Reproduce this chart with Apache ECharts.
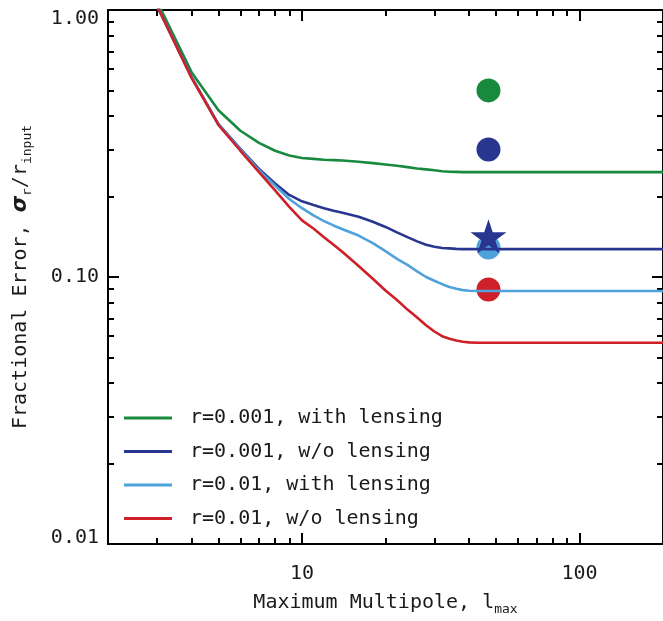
<!DOCTYPE html>
<html>
<head>
<meta charset="utf-8">
<script src="https://cdn.jsdelivr.net/npm/echarts@6/dist/echarts.min.js"></script>
<style>html,body{margin:0;padding:0;background:#fff}#c{width:663px;height:621px}</style>
</head>
<body>
<div id="c"></div>
<script>
// Multipole values (x)
var ell = [2,3,4,5,6,7,8,9,10,11,12,13,14,16,18,20,22,24,26,28,30,32,34,36,38,40,43,46,50,60,80,100,150,200];
// r=0.001, with lensing
var r001Lens = [2.5,1.08,0.585,0.421,0.353,0.318,0.297,0.285,0.279,0.277,0.275,0.274,0.273,0.270,0.267,0.264,0.261,0.258,0.255,0.253,0.251,0.249,0.248,0.2475,0.247,0.247,0.247,0.247,0.247,0.247,0.247,0.247,0.247,0.247];
// r=0.001, w/o lensing
var r001NoLens = [2.4,1.04,0.562,0.374,0.302,0.254,0.224,0.203,0.192,0.186,0.181,0.177,0.174,0.168,0.161,0.154,0.147,0.141,0.136,0.132,0.1298,0.1285,0.128,0.1275,0.1272,0.1272,0.1272,0.1272,0.1272,0.1272,0.1272,0.1272,0.1272,0.1272];
// r=0.01, with lensing
var r01Lens = [2.4,1.04,0.56,0.372,0.300,0.251,0.220,0.196,0.181,0.170,0.162,0.156,0.151,0.143,0.134,0.125,0.117,0.111,0.105,0.100,0.0968,0.0940,0.0918,0.0903,0.0893,0.0888,0.0886,0.0886,0.0886,0.0886,0.0886,0.0886,0.0886,0.0886];
// r=0.01, w/o lensing
var r01NoLens = [2.4,1.04,0.557,0.371,0.297,0.247,0.211,0.183,0.163,0.152,0.141,0.132,0.124,0.110,0.0985,0.089,0.082,0.0755,0.0705,0.066,0.0625,0.0600,0.0587,0.0578,0.0572,0.0569,0.0567,0.0567,0.0567,0.0567,0.0567,0.0567,0.0567,0.0567];
// Single-point markers at lmax ~ 47
var markerEll = 47;
var markerCircleGreen = 0.50;
var markerCircleNavy = 0.30;
var markerStarNavy = 0.142;
var markerCircleLight = 0.129;
var markerCircleRed = 0.0897;
// Tick values
var xMajorTicks = [10, 100];
var xMinorTicks = [3,4,5,6,7,8,9,20,30,40,50,60,70,80,90];
var yMajorTicks = [0.01, 0.1, 1];
var yMinorTicks = [0.02,0.03,0.04,0.05,0.06,0.07,0.08,0.09,0.2,0.3,0.4,0.5,0.6,0.7,0.8,0.9];
var seriesNames = ['r=0.001, with lensing','r=0.001, w/o lensing','r=0.01, with lensing','r=0.01, w/o lensing'];

var GREEN = '#188a3e', NAVY = '#283690', LIGHT = '#4ea3db', RED = '#cf1f28';
var FONT = 'DejaVu Sans Mono';
var INK = '#1a1a1a';
var STAR = 'path://M100 0 L122.45 69.1 L195.1 69.1 L136.3 111.8 L158.8 180.9 L100 138.2 L41.2 180.9 L63.7 111.8 L4.9 69.1 L77.55 69.1 Z';

function pairs(ys){ return ell.map(function(x,i){ return [x, ys[i]]; }); }

function xAxisDef(pos, major, labels){
  return {
    type:'log', logBase:10, min:2, max:200, position:pos,
    axisLine:{show: major, onZero:false, lineStyle:{color:'#000', width:2}},
    axisTick:{show:true, inside:true, length: major?11:6, customValues: major?xMajorTicks:xMinorTicks, lineStyle:{color:'#000', width:2}},
    axisLabel:{show: labels, customValues: xMajorTicks, margin:20, fontFamily:FONT, fontSize:20, color:INK,
      formatter:function(v){ return v >= 50 ? '100' : '10'; }},
    splitLine:{show:false}, minorTick:{show:false}
  };
}
function yAxisDef(pos, major, labels){
  return {
    type:'log', logBase:10, min:0.01, max:1, position:pos,
    axisLine:{show: major, onZero:false, lineStyle:{color:'#000', width:2}},
    axisTick:{show:true, inside:true, length: major?11:6, customValues: major?yMajorTicks:yMinorTicks, lineStyle:{color:'#000', width:2}},
    axisLabel:{show: labels, customValues: yMajorTicks, margin:9, fontFamily:FONT, fontSize:20, color:INK,
      formatter:function(v){ if (v > 0.5) return '{a|1.00}'; if (v > 0.05) return '0.10'; return '{b|0.01}'; },
      rich:{a:{fontFamily:FONT, fontSize:20, color:INK, padding:[18,0,0,0]}, b:{fontFamily:FONT, fontSize:20, color:INK, padding:[0,0,12,0]}}},
    splitLine:{show:false}, minorTick:{show:false}
  };
}

var xa = [xAxisDef('bottom', true, true), xAxisDef('bottom', false, false), xAxisDef('top', true, false), xAxisDef('top', false, false)];
xa[0].name = 'Maximum Multipole, l{sub|max}';
xa[0].nameLocation = 'middle';
xa[0].nameGap = 46;
xa[0].nameTextStyle = {fontFamily:FONT, fontSize:20, color:INK, lineHeight:26,
  rich:{sub:{fontFamily:FONT, fontSize:13, color:INK, lineHeight:13, verticalAlign:'bottom'}}};

var ya = [yAxisDef('left', true, true), yAxisDef('left', false, false), yAxisDef('right', true, false), yAxisDef('right', false, false)];
ya[0].name = 'Fractional Error, {sig|σ}{sub|r}/r{sub|input}';
ya[0].nameLocation = 'middle';
ya[0].nameRotate = 90;
ya[0].nameGap = 74;
ya[0].nameTextStyle = {fontFamily:FONT, fontSize:20, color:INK, lineHeight:26,
  rich:{sig:{fontFamily:'DejaVu Sans', fontSize:21, fontWeight:'bold', fontStyle:'italic', color:INK, lineHeight:26},
        sub:{fontFamily:FONT, fontSize:13, color:INK, lineHeight:13, verticalAlign:'bottom'}}};

function lineSeries(name, ys, color){
  return {type:'line', name:name, data:pairs(ys), xAxisIndex:0, yAxisIndex:0, showSymbol:false, symbol:'none',
    clip:true, z:3, lineStyle:{color:color, width:2.6}, itemStyle:{color:color}};
}
function marker(y, color, sym, size){
  return {type:'scatter', data:[[markerEll, y]], xAxisIndex:0, yAxisIndex:0, symbol:sym, symbolSize:size, z:1,
    itemStyle:{color:color, opacity:1}, silent:true};
}

var option = {
  animation:false,
  backgroundColor:'#fff',
  grid:{left:108, top:10, width:558, height:539, containLabel:false},
  xAxis: xa,
  yAxis: ya,
  legend:{
    data: seriesNames, orient:'vertical', left:124, top:408, itemGap:13.5, padding:0,
    icon:'rect', itemWidth:48, itemHeight:3,
    textStyle:{fontFamily:FONT, fontSize:20, color:INK, padding:[0,0,0,13]}
  },
  series:[
    marker(markerCircleGreen, GREEN, 'circle', 24),
    marker(markerCircleNavy, NAVY, 'circle', 24),
    marker(markerCircleLight, LIGHT, 'circle', 24),
    marker(markerCircleRed, RED, 'circle', 24),
    marker(markerStarNavy, NAVY, STAR, [36, 34.2]),
    lineSeries(seriesNames[0], r001Lens, GREEN),
    lineSeries(seriesNames[1], r001NoLens, NAVY),
    lineSeries(seriesNames[2], r01Lens, LIGHT),
    lineSeries(seriesNames[3], r01NoLens, RED)
  ]
};
var chart = echarts.init(document.getElementById('c'), null, {renderer:'canvas'});
chart.setOption(option);
</script>
</body>
</html>
